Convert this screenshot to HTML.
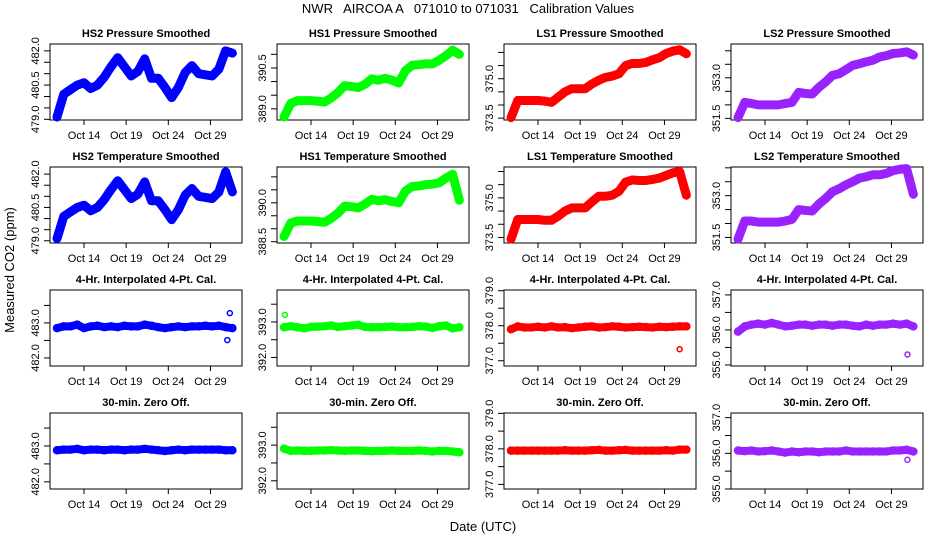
<!DOCTYPE html>
<html><head><meta charset="utf-8"><style>
body{margin:0;background:#fff;}
svg{display:block;font-family:"Liberation Sans",sans-serif;}
</style></head><body>
<svg id="chart" width="936" height="540" viewBox="0 0 936 540">
<text x="468" y="13" text-anchor="middle" font-size="13" xml:space="preserve">NWR   AIRCOA A   071010 to 071031   Calibration Values</text>
<text x="483" y="531" text-anchor="middle" font-size="13">Date (UTC)</text>
<text transform="translate(14,270) rotate(-90)" text-anchor="middle" font-size="13">Measured CO2 (ppm)</text>
<g id="panels"></g>
</svg>
<script>
const days = [10.8,11.6,12.4,13.2,14.0,14.8,15.6,16.4,17.2,18.0,18.8,19.6,20.4,21.2,22.0,22.8,23.6,24.4,25.2,26.0,26.8,27.6,28.4,29.2,30.0,30.8,31.6];
const xTickDays = [14,19,24,29];
const xTickLabels = ["Oct 14","Oct 19","Oct 24","Oct 29"];
const panelTitles = ["HS2 Pressure Smoothed","HS1  Pressure Smoothed","LS1 Pressure Smoothed","LS2 Pressure Smoothed",
"HS2 Temperature Smoothed","HS1 Temperature Smoothed","LS1 Temperature Smoothed","LS2 Temperature Smoothed",
"4-Hr. Interpolated 4-Pt. Cal.","4-Hr. Interpolated 4-Pt. Cal.","4-Hr. Interpolated 4-Pt. Cal.","4-Hr. Interpolated 4-Pt. Cal.",
"30-min. Zero Off.","30-min. Zero Off.","30-min. Zero Off.","30-min. Zero Off."];
const yDomains = [[478.97,482.30],[388.59,391.38],[373.43,376.32],[351.44,354.25],
[478.90,482.32],[388.45,391.38],[373.29,376.17],[351.30,354.03],
[481.77,483.94],[391.76,393.90],[376.85,379.02],[354.97,357.14],
[481.80,483.92],[391.77,393.90],[376.87,379.01],[355.00,357.13]];
const yTicks = [[479,479.5,480,480.5,481,481.5,482],[389,389.5,390,390.5,391],[373.5,374,374.5,375,375.5,376],[351.5,352,352.5,353,353.5,354],
[479,479.5,480,480.5,481,481.5,482],[388.5,389,389.5,390,390.5,391],[373.5,374,374.5,375,375.5,376],[351.5,352,352.5,353,353.5,354],
[482,482.5,483,483.5],[392,392.5,393,393.5],[377,377.5,378,378.5,379],[355,355.5,356,356.5,357],
[482,482.5,483,483.5],[392,392.5,393,393.5],[377,377.5,378,378.5,379],[355,355.5,356,356.5,357]];
const yTickLabels = [["479.0","","","480.5","","","482.0"],["389.0","","","390.5",""],["373.5","","","375.0","",""],["351.5","","","353.0","",""],
["479.0","","","480.5","","","482.0"],["388.5","","","390.0","",""],["373.5","","","375.0","",""],["351.5","","","353.0","",""],
["482.0","","483.0",""],["392.0","","393.0",""],["377.0","","378.0","","379.0"],["355.0","","356.0","","357.0"],
["482.0","","483.0",""],["392.0","","393.0",""],["377.0","","378.0","","379.0"],["355.0","","356.0","","357.0"]];
const hs2Pressure = [479.1,480.1,480.3,480.5,480.6,480.35,480.5,480.85,481.3,481.7,481.3,480.9,481.1,481.65,480.8,480.8,480.4,479.95,480.4,481.05,481.35,481.0,480.95,480.9,481.2,482.0,481.9];
const hs1Pressure = [388.7,389.2,389.3,389.3,389.3,389.28,389.25,389.4,389.6,389.85,389.82,389.78,389.9,390.1,390.05,390.12,390.05,389.95,390.4,390.6,390.62,390.65,390.65,390.78,390.95,391.15,391.0];
const ls1Pressure = [373.52,374.17,374.17,374.17,374.17,374.15,374.1,374.3,374.5,374.62,374.62,374.62,374.8,374.94,375.05,375.1,375.19,375.5,375.58,375.58,375.62,375.72,375.8,375.96,376.05,376.1,375.95];
const ls2Pressure = [351.53,352.09,352.05,352.0,352.0,352.0,352.0,352.05,352.09,352.46,352.42,352.4,352.65,352.85,353.09,353.15,353.3,353.46,353.52,353.59,353.65,353.77,353.82,353.9,353.92,353.96,353.84];
const hs2Temperature = [479.1,480.1,480.3,480.5,480.6,480.35,480.5,480.85,481.3,481.7,481.3,480.9,481.1,481.65,480.8,480.8,480.4,479.95,480.4,481.05,481.35,481.0,480.95,480.9,481.2,482.1,481.2];
const hs1Temperature = [388.7,389.22,389.3,389.3,389.3,389.28,389.25,389.4,389.6,389.87,389.85,389.8,389.95,390.13,390.08,390.12,390.05,390.0,390.45,390.63,390.65,390.7,390.72,390.77,390.95,391.1,390.1];
const ls1Temperature = [373.44,374.18,374.18,374.18,374.18,374.15,374.15,374.31,374.5,374.62,374.62,374.62,374.85,375.06,375.06,375.1,375.25,375.6,375.68,375.66,375.66,375.7,375.75,375.85,375.95,376.0,375.1];
const ls2Temperature = [351.44,352.09,352.09,352.05,352.05,352.05,352.05,352.09,352.15,352.5,352.47,352.45,352.7,352.9,353.14,353.25,353.39,353.5,353.63,353.68,353.75,353.75,353.8,353.9,353.95,353.97,353.05];
const hs2Interp = [482.85,482.9,482.9,482.95,482.85,482.9,482.92,482.88,482.9,482.88,482.92,482.9,482.9,482.95,482.92,482.88,482.85,482.88,482.9,482.88,482.9,482.9,482.92,482.9,482.92,482.88,482.85];
const hs1Interp = [392.85,392.88,392.85,392.82,392.86,392.87,392.88,392.9,392.86,392.88,392.9,392.92,392.86,392.85,392.85,392.86,392.87,392.85,392.85,392.86,392.88,392.87,392.83,392.88,392.9,392.82,392.85];
const ls1Interp = [377.9,377.98,377.95,377.95,377.97,377.95,377.98,377.95,377.96,377.93,377.95,377.97,377.98,377.95,377.96,377.98,377.97,377.95,377.96,377.97,377.96,377.95,377.97,377.96,377.97,377.98,377.98];
const ls2Interp = [355.95,356.1,356.15,356.18,356.15,356.2,356.15,356.1,356.12,356.15,356.15,356.12,356.15,356.15,356.12,356.15,356.15,356.12,356.1,356.15,356.12,356.15,356.15,356.18,356.15,356.18,356.1];
const hs2Zero = [482.88,482.9,482.9,482.92,482.88,482.9,482.9,482.88,482.9,482.9,482.88,482.9,482.9,482.92,482.9,482.88,482.86,482.88,482.9,482.88,482.9,482.9,482.9,482.9,482.9,482.88,482.88];
const hs1Zero = [392.9,392.84,392.85,392.84,392.84,392.85,392.85,392.86,392.85,392.84,392.85,392.85,392.84,392.83,392.84,392.84,392.85,392.84,392.84,392.84,392.85,392.84,392.82,392.84,392.84,392.82,392.8];
const ls1Zero = [377.95,377.95,377.95,377.95,377.95,377.95,377.95,377.95,377.96,377.95,377.95,377.95,377.96,377.97,377.95,377.95,377.96,377.97,377.95,377.95,377.95,377.95,377.95,377.96,377.95,377.98,377.98];
const ls2Zero = [356.08,356.06,356.08,356.05,356.06,356.08,356.05,356.02,356.05,356.03,356.05,356.05,356.03,356.05,356.05,356.05,356.08,356.05,356.05,356.05,356.05,356.05,356.05,356.08,356.08,356.1,356.05];
const outlierDays = [[],[],[],[],[],[],[],[],[31.3,31.0],[10.9],[30.8],[30.9],[],[],[],[30.9]];
const outlierValues = [[],[],[],[],[],[],[],[],[483.28,482.51],[393.2],[377.33],[355.3],[],[],[],[355.82]];
const seriesList = [hs2Pressure,hs1Pressure,ls1Pressure,ls2Pressure,hs2Temperature,hs1Temperature,ls1Temperature,ls2Temperature,hs2Interp,hs1Interp,ls1Interp,ls2Interp,hs2Zero,hs1Zero,ls1Zero,ls2Zero];
const seriesNames = ["hs2-pressure","hs1-pressure","ls1-pressure","ls2-pressure","hs2-temperature","hs1-temperature","ls1-temperature","ls2-temperature","hs2-interp","hs1-interp","ls1-interp","ls2-interp","hs2-zero","hs1-zero","ls1-zero","ls2-zero"];

const colors = ["#0000ff","#00ff00","#ff0000","#9a22ff"];
const colLeft = [50,277,504,731];
const rowTop = [44,167,290,413];
const W = 192, H = 76;
const NS = "http://www.w3.org/2000/svg";
const root = document.getElementById('panels');
function mk(tag, attrs, parent){const e=document.createElementNS(NS,tag);for(const k in attrs)e.setAttribute(k,attrs[k]);parent.appendChild(e);return e;}

for(let p=0;p<16;p++){
  const r=Math.floor(p/4), c=p%4;
  const L=colLeft[c], T=rowTop[r];
  const g=mk('g',{},root);
  
  
  const xs=d=>L+34+(d-14)*8.43;
  const [y0,y1]=yDomains[p];
  const ys=v=>T+H-(v-y0)/(y1-y0)*H;
  const t=mk('text',{x:L+W/2,y:T-7,'text-anchor':'middle','font-size':'11','font-weight':'bold'},g);
  t.textContent=panelTitles[p];
  
  
  const box=mk('rect',{x:L,y:T,width:W,height:H,fill:'none',stroke:'#000','stroke-width':1},g);
  
  
  xTickDays.forEach((d,i)=>{
    const x=xs(d);
    mk('line',{x1:x,y1:T+H,x2:x,y2:T+H+5,stroke:'#000'},g);
    const lt=mk('text',{x:x,y:T+H+19,'text-anchor':'middle','font-size':'11'},g);
    lt.textContent=xTickLabels[i];
    
    
  });
  yTicks[p].forEach((v,i)=>{
    const y=ys(v);
    mk('line',{x1:L,y1:y,x2:L-6,y2:y,stroke:'#000'},g);
    if(yTickLabels[p][i]){
      const lt=mk('text',{transform:`translate(${L-11},${y}) rotate(-90)`,'text-anchor':'middle','font-size':'11'},g);
      lt.textContent=yTickLabels[p][i];
      
      
    }
  });
  const data=seriesList[p], col=colors[c];
  const band=mk('polyline',{points:days.map((d,i)=>xs(d)+','+ys(data[i])).join(' '),fill:'none',stroke:col,'stroke-width':r<2?9:8,'stroke-linejoin':'round','stroke-linecap':'round'},g);
  
  
  days.forEach((d,i)=>{
    const pt=mk('circle',{cx:xs(d),cy:ys(data[i]),r:3.5,fill:col,stroke:col,'stroke-width':1.5},g);
    
    
  });
  outlierDays[p].forEach((d,i)=>{
    const pt=mk('circle',{cx:xs(d),cy:ys(outlierValues[p][i]),r:2.5,fill:'#fff',stroke:col,'stroke-width':1.5},g);
    
    
  });
}
</script>
</body></html>
